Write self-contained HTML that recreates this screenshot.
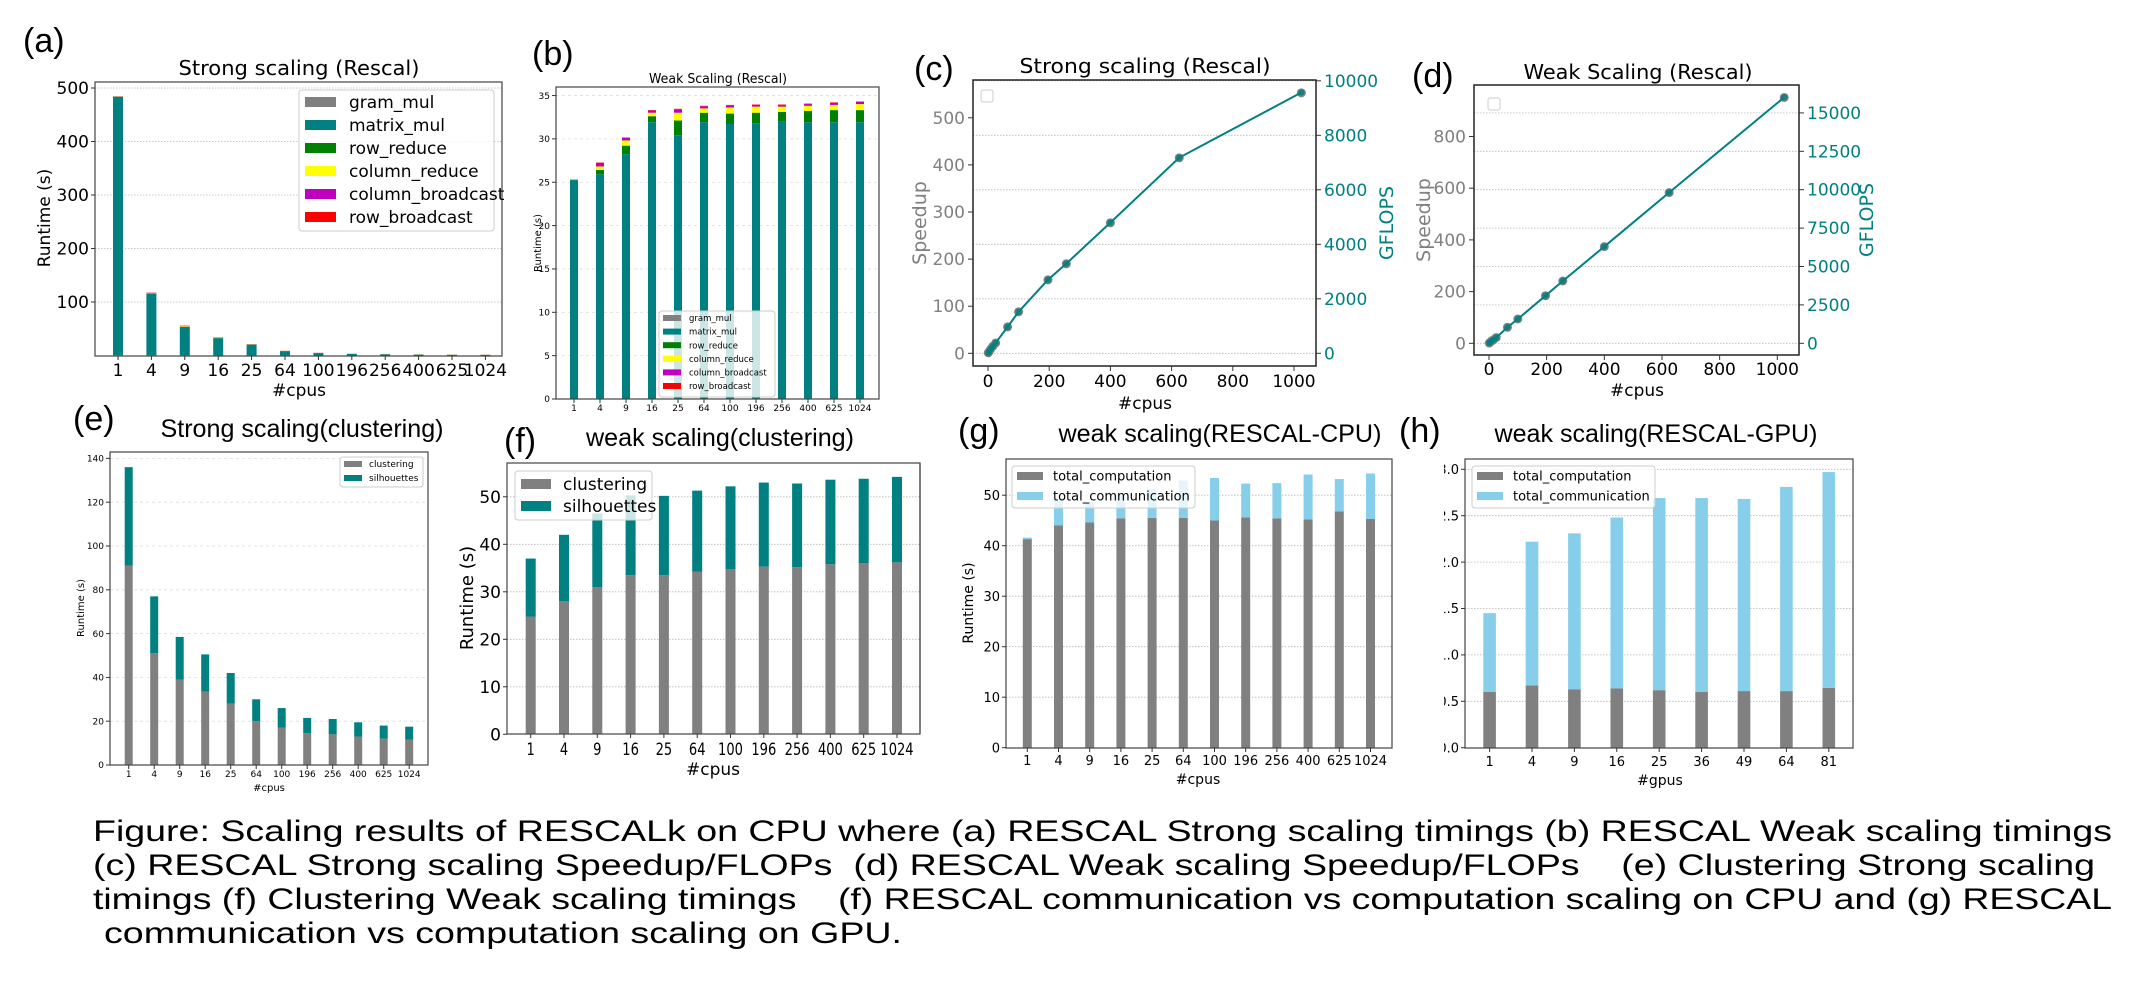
<!DOCTYPE html>
<html><head><meta charset="utf-8"><style>
html,body{margin:0;padding:0;background:#fff;}
svg{display:block;}
text{white-space:pre;}
</style></head><body>
<svg id="fig" xmlns="http://www.w3.org/2000/svg" width="2150" height="1008" viewBox="0 0 2150 1008">
<defs><clipPath id="hclip"><rect x="1444" y="440" width="500" height="340"/></clipPath></defs>
<rect x="0" y="0" width="2150" height="1008" fill="#fff"/>
</svg>
<script>
// ---------- data ----------
const cpuCats = ['1','4','9','16','25','64','100','196','256','400','625','1024'];
const gpuCats = ['1','4','9','16','25','36','49','64','81'];
// (a) strong scaling rescal
const aGram = [0.5,0.3,0.2,0.1,0.1,0.1,0,0,0,0,0,0];
const aMatrix = [483,115,52,32,20,8,4.5,2.8,2.2,1.6,1.2,1.0];
const aRowReduce = [0.3,0.3,1.2,0.5,0.4,0.3,0.2,0.2,0.2,0.2,0.2,0.2];
const aColReduce = [0.3,0.3,1.2,0.5,0.4,0.3,0.2,0.2,0.2,0.2,0.2,0.2];
const aColBcast = [0.3,0.5,1.0,0.5,0.3,0.2,0.2,0.1,0.1,0.1,0.1,0.1];
const aRowBcast = [0.3,1.0,0.3,0.3,0.2,0.1,0.1,0.1,0.1,0.1,0.1,0.1];
const aTicks = [100,200,300,400,500];
// (b) weak scaling rescal
const bGram = [0.02,0.02,0.02,0.02,0.02,0.02,0.02,0.02,0.02,0.02,0.02,0.02];
const bMatrix = [25.2,25.9,28.2,31.9,30.4,31.9,31.7,31.8,32.0,31.9,31.9,31.9];
const bRowReduce = [0.05,0.5,1.0,0.7,1.7,1.1,1.2,1.2,1.1,1.3,1.4,1.4];
const bColReduce = [0.05,0.4,0.6,0.4,0.9,0.5,0.7,0.7,0.6,0.6,0.6,0.7];
const bColBcast = [0.02,0.4,0.3,0.25,0.4,0.25,0.25,0.2,0.2,0.2,0.25,0.25];
const bRowBcast = [0.02,0.05,0.05,0.05,0.05,0.05,0.05,0.05,0.05,0.05,0.05,0.05];
const bTicks = [0,5,10,15,20,25,30,35];
// (c) strong scaling speedup / gflops
const cCpus = [1,4,9,16,25,64,100,196,256,400,625,1024];
const cSpeedup = [1,4,9,15,22,56,88,156,190,277,415,553];
const cGflops = [17,69,156,260,381,969,1523,2700,3290,4795,7180,9570];
const cSpeedTicks = [0,100,200,300,400,500];
const cGflopTicks = [0,2000,4000,6000,8000,10000];
const cXTicks = [0,200,400,600,800,1000];
// (d) weak scaling speedup / gflops
const dCpus = [1,4,9,16,25,64,100,196,256,400,625,1024];
const dSpeedup = [1,4,9,14,22,62,94,184,241,374,583,951];
const dGflops = [17,67,152,236,370,1044,1583,3099,4059,6298,9818,16016];
const dSpeedTicks = [0,200,400,600,800];
const dGflopTicks = [0,2500,5000,7500,10000,12500,15000];
const dXTicks = [0,200,400,600,800,1000];
// (e) strong scaling clustering
const eClust = [91,51,39,33.5,28,20,17,14.5,14,13,12,11.5];
const eSil = [45,26,19.5,17,14,10,9,7,7,6.5,6,6];
const eTicks = [0,20,40,60,80,100,120,140];
// (f) weak scaling clustering
const fClust = [24.8,28,31,33.5,33.5,34.2,34.8,35.3,35.2,35.8,36,36.2];
const fSil = [12.2,14,15.5,16.8,16.7,17.1,17.4,17.7,17.6,17.8,17.8,18];
const fTicks = [0,10,20,30,40,50];
// (g) rescal cpu comm vs comp
const gComp = [41.3,44,44.6,45.4,45.5,45.5,45,45.6,45.4,45.2,46.8,45.3];
const gComm = [0.3,5.3,4.1,4.6,5.7,7.4,8.4,6.7,7.0,8.9,6.4,9.0];
const gTicks = [0,10,20,30,40,50];
// (h) rescal gpu comm vs comp
const hComp = [0.60,0.67,0.63,0.64,0.62,0.60,0.61,0.61,0.645];
const hComm = [0.85,1.55,1.68,1.84,2.07,2.09,2.07,2.20,2.325];
const hTicks = [0,0.5,1.0,1.5,2.0,2.5,3.0];

// ---------- helpers ----------
const NS = 'http://www.w3.org/2000/svg';
const svg = document.getElementById('fig');
const DJ = '"DejaVu Sans", "Liberation Sans", sans-serif';
const LS = '"Liberation Sans", Arial, sans-serif';
function mk(tag, attrs, name, parent) {
  const e = document.createElementNS(NS, tag);
  for (const k in attrs) e.setAttribute(k, attrs[k]);
  
  
  (parent || svg).appendChild(e);
  return e;
}
function T(x, y, s, size, o, name, parent) {
  o = o || {};
  const a = {x: x, y: y, 'font-size': size, 'font-family': o.fam || DJ, fill: o.fill || '#000', 'text-anchor': o.anchor || 'start'};
  if (o.rot) a.transform = 'rotate(-90 ' + x + ' ' + y + ')';
  if (o.len) { a.textLength = o.len; a.lengthAdjust = 'spacingAndGlyphs'; }
  const e = mk('text', a, name, parent);
  e.textContent = s;
  return e;
}
function L(x1, y1, x2, y2, st, w, name, dash, parent) {
  const a = {x1: x1, y1: y1, x2: x2, y2: y2, stroke: st, 'stroke-width': w};
  if (dash) a['stroke-dasharray'] = dash;
  return mk('line', a, name, parent);
}
function R(x, y, w, h, fill, name, extra, parent) {
  const a = {x: x, y: y, width: w, height: h, fill: fill};
  if (extra) for (const k in extra) a[k] = extra[k];
  return mk('rect', a, name, parent);
}

function barPanel(p) {
  const g = mk('g', {}, p.key + '-panel');
  const Y = v => p.y0 - v * p.ppu;
  const X = i => p.x0 + i * p.dx;
  p.ticks.forEach(t => { if (t > 0) L(p.L, Y(t), p.R, Y(t), p.gridCol || '#b8b8b8', 0.8, p.key + '-gridline', p.dash || '1.5,1.5', g); });
  p.cats.forEach((c, i) => {
    let base = 0;
    p.series.forEach(s => {
      const v = s[0][i];
      if (v > 0) R(X(i) - p.bw / 2, Y(base + v), p.bw, v * p.ppu, s[1], p.key + '-bar-' + s[2], null, g);
      base += v;
    });
  });
  R(p.L, p.Top, p.R - p.L, p.Bot - p.Top, 'none', p.key + '-axes-frame', {stroke: '#444', 'stroke-width': 1.2}, g);
  const tg = p.clip ? mk('g', {'clip-path': p.clip}, p.key + '-ytick-group', g) : g;
  p.ticks.forEach(t => {
    L(p.L - 4, Y(t), p.L, Y(t), '#333', 1, p.key + '-ytick', null, g);
    T(p.L - 6, Y(t) + p.tf * 0.36, p.fmt ? p.fmt(t) : String(t), p.tf, {anchor: 'end'}, p.key + '-ytick-label', tg);
  });
  p.cats.forEach((c, i) => {
    L(X(i), p.Bot, X(i), p.Bot + 4, '#333', 1, p.key + '-xtick', null, g);
    T(X(i), p.xlY, c, p.tf, {anchor: 'middle', len: p.xlLen ? (c.length * p.xlLen) : null}, p.key + '-xtick-label', g);
  });
  return g;
}
function legend(p) {
  const g = mk('g', {}, p.key + '-legend');
  R(p.x, p.y, p.w, p.h, '#fff', p.key + '-legend-box', {'fill-opacity': 0.8, stroke: '#ccc', 'stroke-width': 1, rx: 3}, g);
  p.rows.forEach((r, i) => {
    const cy = p.ry + i * p.dy;
    R(p.px, cy - p.ph / 2, p.pw, p.ph, r[1], p.key + '-legend-swatch', null, g);
    T(p.tx, cy + p.fs * 0.36, r[0], p.fs, {}, p.key + '-legend-entry', g);
  });
}
function linePanel(p) {
  const g = mk('g', {}, p.key + '-panel');
  const X = v => p.x0 + v * p.px;
  const YL = v => p.y0 - v * p.pl;
  const YR = v => p.y0 - v * p.pr;
  p.rTicks.forEach(t => { L(p.L, YR(t), p.R, YR(t), '#b8b8b8', 0.8, p.key + '-gridline', '1.5,1.5', g); });
  p.cpus.forEach((c, i) => { mk('circle', {cx: X(c), cy: YL(p.speed[i]), r: 4.5, fill: '#808080'}, p.key + '-speedup-point', g); });
  const pts = p.cpus.map((c, i) => X(c) + ',' + YR(p.gf[i])).join(' ');
  mk('polyline', {points: pts, fill: 'none', stroke: '#008080', 'stroke-width': 2}, p.key + '-gflops-line', g);
  p.cpus.forEach((c, i) => { mk('circle', {cx: X(c), cy: YR(p.gf[i]), r: 3.2, fill: '#008080', 'fill-opacity': 0.8}, p.key + '-gflops-point', g); });
  R(p.L, p.Top, p.R - p.L, p.Bot - p.Top, 'none', p.key + '-axes-frame', {stroke: '#222', 'stroke-width': 1.5}, g);
  p.lTicks.forEach(t => {
    L(p.L - 5, YL(t), p.L, YL(t), '#333', 1, p.key + '-left-tick', null, g);
    T(p.L - 8, YL(t) + 6, String(t), 17, {anchor: 'end', fill: '#808080'}, p.key + '-speedup-tick-label', g);
  });
  p.rTicks.forEach(t => {
    L(p.R, YR(t), p.R + 5, YR(t), '#333', 1, p.key + '-right-tick', null, g);
    T(p.R + 8, YR(t) + 6, String(t), 17, {fill: '#008080'}, p.key + '-gflops-tick-label', g);
  });
  p.xTicks.forEach(t => {
    L(X(t), p.Bot, X(t), p.Bot + 5, '#333', 1, p.key + '-xtick', null, g);
    T(X(t), p.xlY, String(t), 17, {anchor: 'middle'}, p.key + '-xtick-label', g);
  });
  R(p.lgX, p.lgY, 12, 12, '#fff', p.key + '-empty-legend', {stroke: '#ccc', 'stroke-width': 1, rx: 2}, g);
}

// ---------- panel (a) ----------
barPanel({key: 'a', L: 95, R: 502, Top: 82, Bot: 356, y0: 355.5, ppu: 0.535, x0: 118, dx: 33.4, bw: 10, cats: cpuCats,
  series: [[aGram, '#808080', 'gram-mul'], [aMatrix, '#008080', 'matrix-mul'], [aRowReduce, '#008000', 'row-reduce'], [aColReduce, '#ffff00', 'column-reduce'], [aColBcast, '#bf00bf', 'column-broadcast'], [aRowBcast, '#ff0000', 'row-broadcast']],
  ticks: aTicks, tf: 17, xlY: 376});
legend({key: 'a', x: 299, y: 90, w: 195, h: 141, ry: 102, dy: 23, px: 305, pw: 31, ph: 10, tx: 349, fs: 17,
  rows: [['gram_mul', '#808080'], ['matrix_mul', '#008080'], ['row_reduce', '#008000'], ['column_reduce', '#ffff00'], ['column_broadcast', '#bf00bf'], ['row_broadcast', '#ff0000']]});
T(23, 52, '(a)', 34, {fam: LS}, 'panel-label-a');
T(299, 75, 'Strong scaling (Rescal)', 20, {anchor: 'middle', len: 241}, 'title-a');
T(50, 218, 'Runtime (s)', 17, {anchor: 'middle', rot: true}, 'y-axis-title-a');
T(299, 396, '#cpus', 17, {anchor: 'middle'}, 'x-axis-title-a');

// ---------- panel (b) ----------
barPanel({key: 'b', L: 556, R: 879, Top: 87, Bot: 399, y0: 399, ppu: 8.67, x0: 574, dx: 26, bw: 8, cats: cpuCats,
  series: [[bGram, '#808080', 'gram-mul'], [bMatrix, '#008080', 'matrix-mul'], [bRowReduce, '#008000', 'row-reduce'], [bColReduce, '#ffff00', 'column-reduce'], [bColBcast, '#bf00bf', 'column-broadcast'], [bRowBcast, '#ff0000', 'row-broadcast']],
  ticks: bTicks, tf: 9, xlY: 411, dash: '3,3', gridCol: '#ddd'});
legend({key: 'b', x: 659, y: 311, w: 116, h: 86, ry: 318, dy: 13.6, px: 663, pw: 18, ph: 6, tx: 689, fs: 8.5,
  rows: [['gram_mul', '#808080'], ['matrix_mul', '#008080'], ['row_reduce', '#008000'], ['column_reduce', '#ffff00'], ['column_broadcast', '#bf00bf'], ['row_broadcast', '#ff0000']]});
T(532, 65, '(b)', 34, {fam: LS}, 'panel-label-b');
T(718, 83, 'Weak Scaling (Rescal)', 13, {anchor: 'middle', len: 138}, 'title-b');
T(541, 243, 'Runtime (s)', 10, {anchor: 'middle', rot: true}, 'y-axis-title-b');

// ---------- panel (c) ----------
linePanel({key: 'c', L: 973, R: 1316, Top: 80, Bot: 366, x0: 988, px: 0.306, y0: 353.3, pl: 0.471, pr: 0.02725,
  cpus: cCpus, speed: cSpeedup, gf: cGflops, lTicks: cSpeedTicks, rTicks: cGflopTicks, xTicks: cXTicks, xlY: 387, lgX: 981, lgY: 90});
T(914, 80, '(c)', 34, {fam: LS}, 'panel-label-c');
T(1145, 73, 'Strong scaling (Rescal)', 20, {anchor: 'middle', len: 251}, 'title-c');
T(926, 223, 'Speedup', 19, {anchor: 'middle', rot: true, fill: '#808080'}, 'y-axis-title-speedup-c');
T(1393, 223, 'GFLOPS', 19, {anchor: 'middle', rot: true, fill: '#008080'}, 'y-axis-title-gflops-c');
T(1145, 409, '#cpus', 17, {anchor: 'middle'}, 'x-axis-title-c');

// ---------- panel (d) ----------
linePanel({key: 'd', L: 1474, R: 1799, Top: 85, Bot: 355, x0: 1489, px: 0.2883, y0: 343.3, pl: 0.2585, pr: 0.01536,
  cpus: dCpus, speed: dSpeedup, gf: dGflops, lTicks: dSpeedTicks, rTicks: dGflopTicks, xTicks: dXTicks, xlY: 375, lgX: 1488, lgY: 98});
T(1412, 87, '(d)', 34, {fam: LS}, 'panel-label-d');
T(1638, 79, 'Weak Scaling (Rescal)', 20, {anchor: 'middle', len: 229}, 'title-d');
T(1430, 220, 'Speedup', 19, {anchor: 'middle', rot: true, fill: '#808080'}, 'y-axis-title-speedup-d');
T(1873, 220, 'GFLOPS', 19, {anchor: 'middle', rot: true, fill: '#008080'}, 'y-axis-title-gflops-d');
T(1637, 396, '#cpus', 17, {anchor: 'middle'}, 'x-axis-title-d');

// ---------- panel (e) ----------
barPanel({key: 'e', L: 110, R: 428, Top: 452, Bot: 765, y0: 765, ppu: 2.19, x0: 128.7, dx: 25.5, bw: 8, cats: cpuCats,
  series: [[eClust, '#808080', 'clustering'], [eSil, '#008080', 'silhouettes']],
  ticks: eTicks, tf: 9, xlY: 777, dash: '3,3', gridCol: '#ddd'});
legend({key: 'e', x: 340, y: 457, w: 83, h: 30, ry: 464, dy: 14, px: 344, pw: 18, ph: 6, tx: 369, fs: 9,
  rows: [['clustering', '#808080'], ['silhouettes', '#008080']]});
T(73, 430, '(e)', 34, {fam: LS}, 'panel-label-e');
T(302, 437, 'Strong scaling(clustering)', 25, {anchor: 'middle', fam: LS, len: 283}, 'title-e');
T(84, 608, 'Runtime (s)', 10, {anchor: 'middle', rot: true}, 'y-axis-title-e');
T(269, 791, '#cpus', 10, {anchor: 'middle'}, 'x-axis-title-e');

// ---------- panel (f) ----------
barPanel({key: 'f', L: 507, R: 920, Top: 463, Bot: 734, y0: 734.3, ppu: 4.75, x0: 530.7, dx: 33.3, bw: 10, cats: cpuCats,
  series: [[fClust, '#808080', 'clustering'], [fSil, '#008080', 'silhouettes']],
  ticks: fTicks, tf: 17, xlY: 755, xlLen: 8.3});
legend({key: 'f', x: 515, y: 471, w: 137, h: 49, ry: 484, dy: 22, px: 521, pw: 30, ph: 10, tx: 563, fs: 17,
  rows: [['clustering', '#808080'], ['silhouettes', '#008080']]});
T(504, 452, '(f)', 34, {fam: LS}, 'panel-label-f');
T(720, 446, 'weak scaling(clustering)', 25, {anchor: 'middle', fam: LS, len: 268}, 'title-f');
T(473, 598, 'Runtime (s)', 18, {anchor: 'middle', rot: true}, 'y-axis-title-f');
T(713, 775, '#cpus', 17, {anchor: 'middle'}, 'x-axis-title-f');

// ---------- panel (g) ----------
barPanel({key: 'g', L: 1006, R: 1392, Top: 459, Bot: 748, y0: 747.7, ppu: 5.05, x0: 1027.3, dx: 31.2, bw: 9, cats: cpuCats,
  series: [[gComp, '#808080', 'total-computation'], [gComm, '#87ceeb', 'total-communication']],
  ticks: gTicks, tf: 13, xlY: 765});
legend({key: 'g', x: 1012, y: 466, w: 183, h: 42, ry: 476, dy: 20, px: 1017, pw: 26, ph: 8, tx: 1053, fs: 13,
  rows: [['total_computation', '#808080'], ['total_communication', '#87ceeb']]});
T(958, 442, '(g)', 34, {fam: LS}, 'panel-label-g');
T(1220, 442, 'weak scaling(RESCAL-CPU)', 25, {anchor: 'middle', fam: LS, len: 323}, 'title-g');
T(973, 603, 'Runtime (s)', 14, {anchor: 'middle', rot: true}, 'y-axis-title-g');
T(1198, 784, '#cpus', 14, {anchor: 'middle'}, 'x-axis-title-g');
L(920, 463, 920, 733, '#444', 1.2, 'f-right-spine');

// ---------- panel (h) ----------
barPanel({key: 'h', L: 1465, R: 1853, Top: 459, Bot: 748, y0: 747.7, ppu: 92.8, x0: 1489.6, dx: 42.4, bw: 12.6, cats: gpuCats,
  series: [[hComp, '#808080', 'total-computation'], [hComm, '#87ceeb', 'total-communication']],
  ticks: hTicks, tf: 13, xlY: 766, clip: 'url(#hclip)', fmt: v => v.toFixed(1)});
legend({key: 'h', x: 1472, y: 466, w: 183, h: 42, ry: 476, dy: 20, px: 1477, pw: 26, ph: 8, tx: 1513, fs: 13,
  rows: [['total_computation', '#808080'], ['total_communication', '#87ceeb']]});
T(1399, 442, '(h)', 34, {fam: LS}, 'panel-label-h');
T(1656, 442, 'weak scaling(RESCAL-GPU)', 25, {anchor: 'middle', fam: LS, len: 323}, 'title-h');
T(1660, 785, '#gpus', 14, {anchor: 'middle'}, 'x-axis-title-h');

// ---------- caption ----------
T(93, 841, 'Figure: Scaling results of RESCALk on CPU where (a) RESCAL Strong scaling timings (b) RESCAL Weak scaling timings', 30, {fam: LS, len: 2019}, 'caption-line-1');
T(93, 875, '(c) RESCAL Strong scaling Speedup/FLOPs  (d) RESCAL Weak scaling Speedup/FLOPs    (e) Clustering Strong scaling', 30, {fam: LS, len: 2002}, 'caption-line-2');
T(93, 909, 'timings (f) Clustering Weak scaling timings    (f) RESCAL communication vs computation scaling on CPU and (g) RESCAL', 30, {fam: LS, len: 2019}, 'caption-line-3');
T(104, 943, 'communication vs computation scaling on GPU.', 30, {fam: LS, len: 798}, 'caption-line-4');
</script>
</body></html>
